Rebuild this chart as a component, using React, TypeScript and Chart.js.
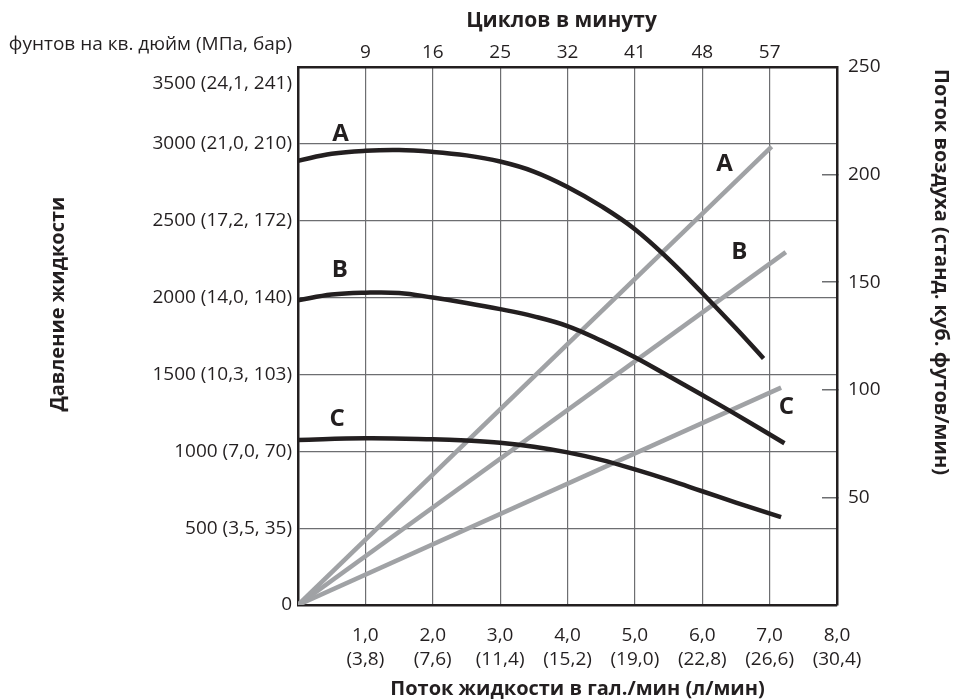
import { useEffect, useRef } from 'react';
import { Chart, registerables } from 'chart.js';

Chart.register(...registerables);

// ---------- data ----------
const flowTickValues = [0, 1, 2, 3, 4, 5, 6, 7, 8];
const flowGpmLabels = ['', '1,0', '2,0', '3,0', '4,0', '5,0', '6,0', '7,0', '8,0'];
const flowLpmLabels = ['', '(3,8)', '(7,6)', '(11,4)', '(15,2)', '(19,0)', '(22,8)', '(26,6)', '(30,4)'];
const cyclesLabels = ['', '9', '16', '25', '32', '41', '48', '57', ''];

const pressureTickValues = [0, 500, 1000, 1500, 2000, 2500, 3000, 3500];
const pressureTickLabels = [
  '0',
  '500 (3,5, 35)',
  '1000 (7,0, 70)',
  '1500 (10,3, 103)',
  '2000 (14,0, 140)',
  '2500 (17,2, 172)',
  '3000 (21,0, 210)',
  '3500 (24,1, 241)',
];
const airTickValues = [0, 50, 100, 150, 200, 250];
const airTickLabels = ['', '50', '100', '150', '200', '250'];

const pressureFlowA = [0, 0.5, 1, 1.5, 2, 2.5, 3, 3.5, 4, 4.5, 5, 5.5, 6, 6.5, 6.91];
const pressureA = [2890, 2935, 2955, 2960, 2948, 2925, 2885, 2820, 2720, 2595, 2445, 2250, 2030, 1800, 1604];
const pressureFlowB = [0, 0.5, 1, 1.5, 2, 2.5, 3, 3.5, 4, 4.5, 5, 5.5, 6, 6.5, 7.22];
const pressureB = [1982, 2020, 2032, 2030, 2000, 1965, 1925, 1878, 1815, 1720, 1612, 1490, 1366, 1240, 1052];
const pressureFlowC = [0, 1, 2, 2.5, 3, 3.5, 4, 4.5, 5, 5.5, 6, 6.5, 7.17];
const pressureC = [1073, 1084, 1078, 1070, 1056, 1030, 993, 944, 882, 814, 740, 666, 571];

const airFlowA = [0, 7.03];
const airA = [0, 213];
const airFlowB = [0, 7.24];
const airB = [0, 164];
const airFlowC = [0, 7.17];
const airC = [0, 101];

const letterTexts = ['A', 'B', 'C', 'A', 'B', 'C'];
const letterFlow = [0.63, 0.62, 0.58, 6.33, 6.55, 7.25];
const letterValue = [3065, 2177, 1208, 205, 164, 92];
const letterAxis = ['y', 'y', 'y', 'y2', 'y2', 'y2'];

const titleTop = 'Циклов в минуту';
const titleBottom = 'Поток жидкости в гал./мин (л/мин)';
const titleLeft = 'Давление жидкости';
const titleRight = 'Поток воздуха (станд. куб. футов/мин)';
const unitLeft = 'фунтов на кв. дюйм (МПа, бар)';

// ---------- styling / layout ----------
const INK = '#231f20';
const GRAY_LINE = '#a0a2a5';
const GRID = '#6d6e71';
const FONT = "'Open Sans', 'Noto Sans', sans-serif";
const TOP_LABEL_SHIFT = 110; // reference prints the 3500 label a little below the frame

const pts = (xs: number[], ys: number[]) => xs.map((x, i) => ({ x, y: ys[i] }));

const titlesPlugin = {
  id: 'titlesAndLetters',
  afterDatasetsDraw(chart: any) {
    const { ctx, scales } = chart;
    ctx.save();
    ctx.fillStyle = INK;
    ctx.textBaseline = 'middle';
    ctx.font = `bold 24px ${FONT}`;
    ctx.textAlign = 'center';
    letterTexts.forEach((t, i) => {
      const px = scales.x.getPixelForValue(letterFlow[i]);
      const py = scales[letterAxis[i]].getPixelForValue(letterValue[i]);
      ctx.fillText(t, px, py);
    });
    ctx.restore();
  },
  afterDraw(chart: any) {
    const { ctx, chartArea } = chart;
    const cx = (chartArea.left + chartArea.right) / 2;
    ctx.save();
    ctx.fillStyle = INK;
    ctx.textBaseline = 'middle';
    ctx.textAlign = 'center';
    ctx.font = `bold 21px ${FONT}`;
    ctx.fillText(titleTop, cx - 6, 21);
    ctx.font = `bold 20px ${FONT}`;
    ctx.fillText(titleBottom, cx + 10, 689);

    ctx.save();
    ctx.translate(58, 304);
    ctx.rotate(-Math.PI / 2);
    ctx.fillText(titleLeft, 0, 0);
    ctx.restore();

    ctx.save();
    ctx.translate(941, 272);
    ctx.rotate(Math.PI / 2);
    ctx.fillText(titleRight, 0, 0);
    ctx.restore();

    ctx.font = `19px ${FONT}`;
    ctx.textAlign = 'right';
    ctx.fillText(unitLeft, chartArea.left - 6, 45);
    ctx.restore();
  },
};

export default function App() {
  const ref = useRef<HTMLCanvasElement>(null);

  useEffect(() => {
    const lineBase = {
      pointRadius: 0,
      borderWidth: 4.5,
      borderCapStyle: 'butt' as const,
      fill: false,
      tension: 0.4,
      xAxisID: 'x',
    };
    const chart = new Chart(ref.current as HTMLCanvasElement, {
      type: 'line',
      data: {
        datasets: [
          { ...lineBase, label: 'A', data: pts(pressureFlowA, pressureA), borderColor: INK, yAxisID: 'y' },
          { ...lineBase, label: 'B', data: pts(pressureFlowB, pressureB), borderColor: INK, yAxisID: 'y' },
          { ...lineBase, label: 'C', data: pts(pressureFlowC, pressureC), borderColor: INK, yAxisID: 'y' },
          { ...lineBase, label: 'Air A', data: pts(airFlowA, airA), borderColor: GRAY_LINE, yAxisID: 'y2', tension: 0 },
          { ...lineBase, label: 'Air B', data: pts(airFlowB, airB), borderColor: GRAY_LINE, yAxisID: 'y2', tension: 0 },
          { ...lineBase, label: 'Air C', data: pts(airFlowC, airC), borderColor: GRAY_LINE, yAxisID: 'y2', tension: 0 },
        ],
      },
      options: {
        animation: false,
        responsive: true,
        maintainAspectRatio: false,
        layout: { padding: 0 },
        plugins: { legend: { display: false }, tooltip: { enabled: false }, title: { display: false } },
        scales: {
          x: {
            type: 'linear',
            position: 'bottom',
            min: 0,
            max: 8,
            afterBuildTicks: (s: any) => { s.ticks = flowTickValues.map((v) => ({ value: v })); },
            afterFit: (s: any) => { s.height = 95; },
            ticks: {
              color: INK,
              font: { family: FONT, size: 19, lineHeight: 1.26 },
              padding: 19,
              maxRotation: 0,
              autoSkip: false,
              callback: (_v: any, i: number) => (flowGpmLabels[i] ? [flowGpmLabels[i], flowLpmLabels[i]] : ''),
            },
            grid: { color: GRID, lineWidth: 1.2, drawTicks: false },
            border: { display: true, color: INK, width: 2.5 },
          },
          x2: {
            type: 'linear',
            position: 'top',
            min: 0,
            max: 8,
            afterBuildTicks: (s: any) => { s.ticks = flowTickValues.map((v) => ({ value: v })); },
            afterFit: (s: any) => { s.height = 67; },
            ticks: {
              color: INK,
              font: { family: FONT, size: 19, lineHeight: 1.26 },
              padding: 2,
              maxRotation: 0,
              autoSkip: false,
              callback: (_v: any, i: number) => cyclesLabels[i],
            },
            grid: { display: true, drawOnChartArea: false, drawTicks: false },
            border: { display: true, color: INK, width: 2.5 },
          },
          y: {
            type: 'linear',
            position: 'left',
            min: 0,
            max: 3500,
            afterBuildTicks: (s: any) => {
              s.ticks = pressureTickValues.map((v, i) => ({
                value: i === pressureTickValues.length - 1 ? v - TOP_LABEL_SHIFT : v,
              }));
            },
            afterFit: (s: any) => { s.width = 298; },
            ticks: {
              color: INK,
              font: { family: FONT, size: 19 },
              padding: 6,
              autoSkip: false,
              callback: (_v: any, i: number) => pressureTickLabels[i],
            },
            grid: {
              color: (c: any) => (c.index === pressureTickValues.length - 1 ? 'rgba(0,0,0,0)' : GRID),
              lineWidth: 1.2,
              drawTicks: false,
            },
            border: { display: true, color: INK, width: 2.5 },
          },
          y2: {
            type: 'linear',
            position: 'right',
            min: 0,
            max: 250,
            afterBuildTicks: (s: any) => { s.ticks = airTickValues.map((v) => ({ value: v })); },
            afterFit: (s: any) => { s.width = 121; },
            ticks: {
              color: INK,
              font: { family: FONT, size: 19 },
              padding: 26,
              autoSkip: false,
              callback: (_v: any, i: number) => airTickLabels[i],
            },
            grid: {
              drawOnChartArea: false,
              drawTicks: true,
              tickLength: -15,
              tickColor: (c: any) => (c.index === 0 || c.index === airTickValues.length - 1 ? 'rgba(0,0,0,0)' : GRID),
              lineWidth: 1.5,
            },
            border: { display: true, color: INK, width: 2.5 },
          },
        },
      } as any,
      plugins: [titlesPlugin],
    });
    return () => chart.destroy();
  }, []);

  return (
    <div style={{ position: 'fixed', left: 0, top: 0, width: 958, height: 700, background: '#fff' }}>
      <canvas ref={ref} />
    </div>
  );
}
